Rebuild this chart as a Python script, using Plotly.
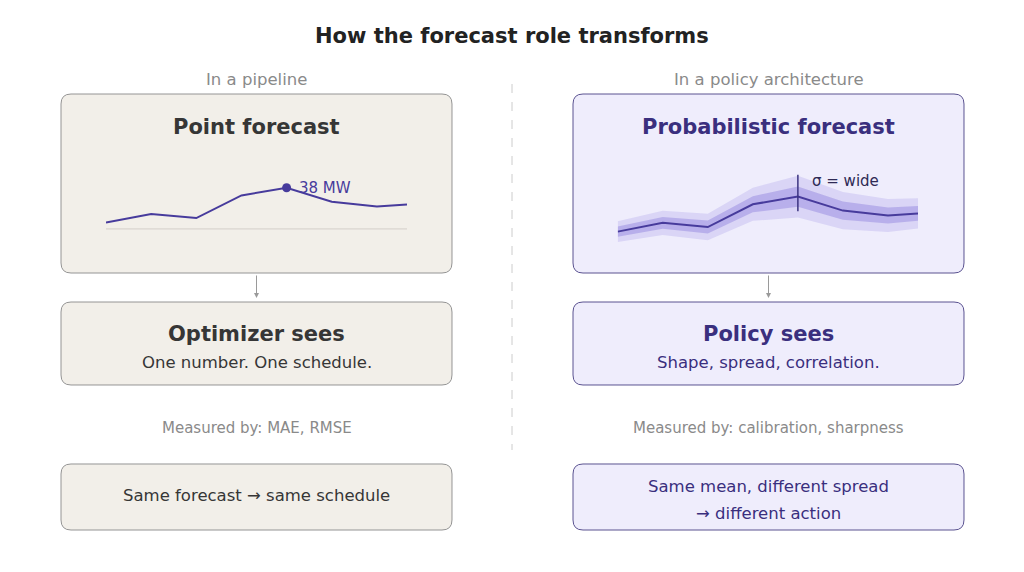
import plotly.graph_objects as go

W, H = 1024, 572
OFF = 8  # page body margin in the browser

# ---------------- data ----------------
hours = [0, 3, 6, 9, 12, 15, 18, 20]
forecast_mw = [28.0, 30.5, 29.3, 35.8, 38.0, 34.0, 32.6, 33.2]
sigma_mw = [1.45, 1.7, 1.85, 2.3, 2.9, 2.6, 2.3, 2.1]
baseline_mw = 26.2

title = "How the forecast role transforms"
col_labels = ["In a pipeline", "In a policy architecture"]
top_titles = ["Point forecast", "Probabilistic forecast"]
mid_titles = ["Optimizer sees", "Policy sees"]
mid_sub = ["One number. One schedule.", "Shape, spread, correlation."]
measured = ["Measured by: MAE, RMSE", "Measured by: calibration, sharpness"]
bottom_txt = [["Same forecast \u2192 same schedule"],
              ["Same mean, different spread", "\u2192 different action"]]
sigma_label = "\u03c3 = wide"

# ---------------- styling ----------------
FONT = "DejaVu Sans"
LINE = "#473b9c"
GREY = "#8a8a8a"
L_FILL, L_EDGE, L_TXT = "#f2efe9", "#949494", "#363636"
R_FILL, R_EDGE, R_TXT = "#efedfc", "#5a5290", "#3a2f7e"


def X(px):
    return (px - OFF) / W


def Y(py):
    return 1 - (py - OFF) / H


def rrect(x0, y0, x1, y1, r=10):
    def p(x, y):
        return f"{X(x):.5f},{Y(y):.5f}"
    d = (f"M {p(x0 + r, y0)} L {p(x1 - r, y0)} Q {p(x1, y0)} {p(x1, y0 + r)} "
         f"L {p(x1, y1 - r)} Q {p(x1, y1)} {p(x1 - r, y1)} "
         f"L {p(x0 + r, y1)} Q {p(x0, y1)} {p(x0, y1 - r)} "
         f"L {p(x0, y0 + r)} Q {p(x0, y0)} {p(x0 + r, y0)} Z")
    return d


fig = go.Figure()

# ---- left chart: point forecast ----
fig.add_trace(go.Scatter(x=hours, y=[baseline_mw] * len(hours), mode="lines",
                         line=dict(color="#d3cfca", width=1), xaxis="x", yaxis="y",
                         hoverinfo="skip", showlegend=False))
fig.add_trace(go.Scatter(x=hours, y=forecast_mw, mode="lines",
                         line=dict(color=LINE, width=2), xaxis="x", yaxis="y",
                         showlegend=False))
pk = forecast_mw.index(max(forecast_mw))
fig.add_trace(go.Scatter(x=[hours[pk]], y=[forecast_mw[pk]], mode="markers",
                         marker=dict(color=LINE, size=9), xaxis="x", yaxis="y",
                         showlegend=False))

# ---- right chart: probabilistic forecast ----
up2 = [m + 2.05 * s for m, s in zip(forecast_mw, sigma_mw)]
lo2 = [m - 2.05 * s for m, s in zip(forecast_mw, sigma_mw)]
up1 = [m + 1.0 * s for m, s in zip(forecast_mw, sigma_mw)]
lo1 = [m - 1.0 * s for m, s in zip(forecast_mw, sigma_mw)]
fig.add_trace(go.Scatter(x=hours + hours[::-1], y=up2 + lo2[::-1], mode="lines",
                         fill="toself", fillcolor="rgba(120,105,220,0.18)",
                         line=dict(width=0), xaxis="x2", yaxis="y2",
                         hoverinfo="skip", showlegend=False))
fig.add_trace(go.Scatter(x=hours + hours[::-1], y=up1 + lo1[::-1], mode="lines",
                         fill="toself", fillcolor="rgba(105,90,210,0.30)",
                         line=dict(width=0), xaxis="x2", yaxis="y2",
                         hoverinfo="skip", showlegend=False))
fig.add_trace(go.Scatter(x=hours, y=forecast_mw, mode="lines",
                         line=dict(color=LINE, width=2), xaxis="x2", yaxis="y2",
                         showlegend=False))
fig.add_trace(go.Scatter(x=[hours[pk], hours[pk]],
                         y=[forecast_mw[pk] - 1.45 * sigma_mw[pk],
                            forecast_mw[pk] + 2.15 * sigma_mw[pk]],
                         mode="lines", line=dict(color="#3b3380", width=1.5),
                         xaxis="x2", yaxis="y2", showlegend=False))

ydom = [Y(260), Y(150)]
xr = [hours[0], hours[-1]]
fig.update_layout(
    width=W, height=H, margin=dict(l=0, r=0, t=0, b=0),
    paper_bgcolor="white", plot_bgcolor="rgba(0,0,0,0)",
    font=dict(family=FONT),
    xaxis=dict(domain=[X(106), X(407)], range=xr, visible=False, fixedrange=True),
    yaxis=dict(domain=ydom, range=[17.3, 48.8], visible=False, fixedrange=True),
    xaxis2=dict(domain=[X(617.7), X(918)], range=xr, visible=False, fixedrange=True),
    yaxis2=dict(domain=ydom, range=[19.9, 51.3], visible=False, fixedrange=True,
                anchor="x2"),
)

shapes = []
anns = []
centers = [256.5, 768.5]
fills = [(L_FILL, L_EDGE), (R_FILL, R_EDGE)]
x_edges = [(61, 452), (573, 964)]
for i in range(2):
    fc, ec = fills[i]
    x0, x1 = x_edges[i]
    for (y0, y1) in [(94, 273), (302, 385), (464, 530)]:
        shapes.append(dict(type="path", path=rrect(x0, y0, x1, y1, 10),
                           xref="paper", yref="paper", fillcolor=fc,
                           line=dict(color=ec, width=1), layer="below"))
    txtc = L_TXT if i == 0 else R_TXT
    cx = X(centers[i])
    anns += [
        dict(x=cx, y=Y(79), text=col_labels[i], font=dict(size=16.5, color=GREY)),
        dict(x=cx, y=Y(127), text=f"<b>{top_titles[i]}</b>", font=dict(size=21, color=txtc)),
        dict(x=cx, y=Y(334), text=f"<b>{mid_titles[i]}</b>", font=dict(size=21, color=txtc)),
        dict(x=cx, y=Y(362), text=mid_sub[i], font=dict(size=16.5, color=txtc)),
        dict(x=cx, y=Y(428), text=measured[i], font=dict(size=15, color=GREY)),
    ]
    lines = bottom_txt[i]
    ys = [495] if len(lines) == 1 else [486, 513]
    for t, yy in zip(lines, ys):
        anns.append(dict(x=cx, y=Y(yy), text=t, font=dict(size=16.5, color=txtc)))
    # arrow between top and middle boxes
    anns.append(dict(x=cx, y=Y(298), ax=0, ay=-24, axref="pixel", ayref="pixel",
                     text="", showarrow=True,
                     arrowhead=2, arrowsize=1, arrowwidth=1, arrowcolor="#9a9a9a"))

# divider
shapes.append(dict(type="line", xref="paper", yref="paper", x0=X(512), x1=X(512),
                   y0=Y(84), y1=Y(450), line=dict(color="#cccccc", width=1, dash="dash")))

anns.append(dict(x=X(512), y=Y(36), text=f"<b>{title}</b>", font=dict(size=21, color="#222222")))
anns.append(dict(x=hours[pk], y=forecast_mw[pk], xref="x", yref="y", xanchor="left",
                 xshift=10, text=f"{forecast_mw[pk]:.0f} MW",
                 font=dict(size=15, color=LINE), showarrow=False))
anns.append(dict(x=hours[pk], y=Y(181), xref="x2", yref="paper", xanchor="left",
                 xshift=12, text=sigma_label, font=dict(size=15, color="#2e2a55"),
                 showarrow=False))

for a in anns:
    a.setdefault("xref", "paper")
    a.setdefault("yref", "paper")
    a.setdefault("showarrow", False)
    a.setdefault("xanchor", "center")
    a.setdefault("yanchor", "middle")
    a.setdefault("font", {})["family"] = FONT

fig.update_layout(shapes=shapes, annotations=anns)
fig.write_html("out.html")
